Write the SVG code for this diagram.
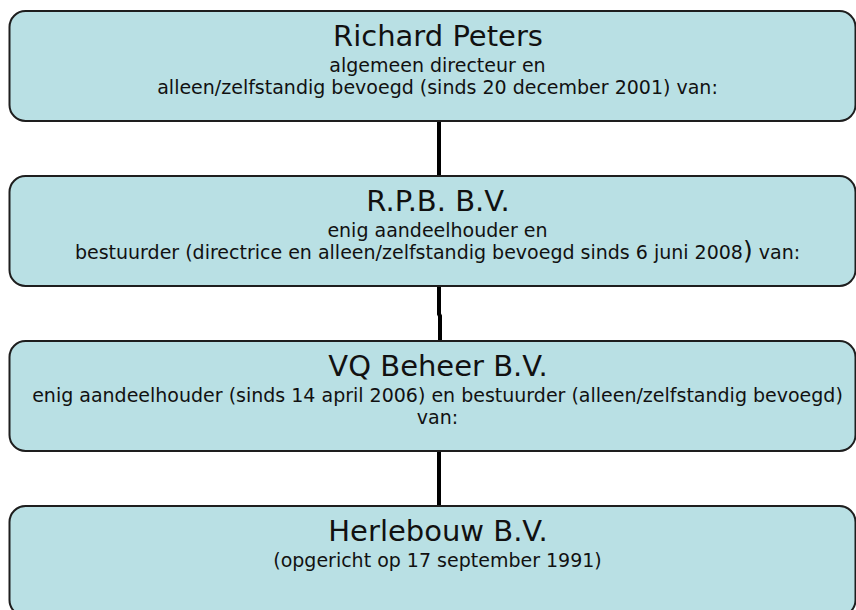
<svg xmlns="http://www.w3.org/2000/svg" width="856" height="610" viewBox="0 0 856 610">
<style>
.box{fill:#b9e0e4;stroke:#1e1e1e;stroke-width:2}
.t{font-family:"DejaVu Sans",Verdana,sans-serif;fill:#111;text-anchor:middle}
.h{font-size:29px}
.s{font-size:19px}
.c{stroke:#000;stroke-width:4;fill:none}
</style>
<rect width="856" height="610" fill="#fff"/>
<g id="connectors">
<line class="c" x1="439" y1="121" x2="439" y2="176"/>
<polyline class="c" points="439,286 439,314 440,316 440,341"/>
<line class="c" x1="439" y1="451" x2="439" y2="506"/>
</g>
<g id="n1">
<rect class="box" x="9.5" y="11" width="846" height="110" rx="16"/>
<text class="t h" x="438" y="45.5">Richard Peters</text>
<text class="t s" x="437.5" y="72">algemeen directeur en</text>
<text class="t s" x="437.5" y="94">alleen/zelfstandig bevoegd (sinds 20 december 2001) van:</text>
</g>
<g id="n2">
<rect class="box" x="9.5" y="176" width="846" height="110" rx="16"/>
<text class="t h" x="438" y="210.5">R.P.B. B.V.</text>
<text class="t s" x="437.5" y="237">enig aandeelhouder en</text>
<text class="t s" x="437.5" y="259">bestuurder (directrice en alleen/zelfstandig bevoegd sinds 6 juni 2008<tspan font-size="25px">)</tspan> van:</text>
</g>
<g id="n3">
<rect class="box" x="9.5" y="341" width="846" height="110" rx="16"/>
<text class="t h" x="438" y="375.5">VQ Beheer B.V.</text>
<text class="t s" x="437.5" y="402">enig aandeelhouder (sinds 14 april 2006) en bestuurder (alleen/zelfstandig bevoegd)</text>
<text class="t s" x="437.5" y="424">van:</text>
</g>
<g id="n4">
<rect class="box" x="9.5" y="506" width="846" height="110" rx="16"/>
<text class="t h" x="438" y="540.5">Herlebouw B.V.</text>
<text class="t s" x="437.5" y="567">(opgericht op 17 september 1991)</text>
</g>
</svg>
